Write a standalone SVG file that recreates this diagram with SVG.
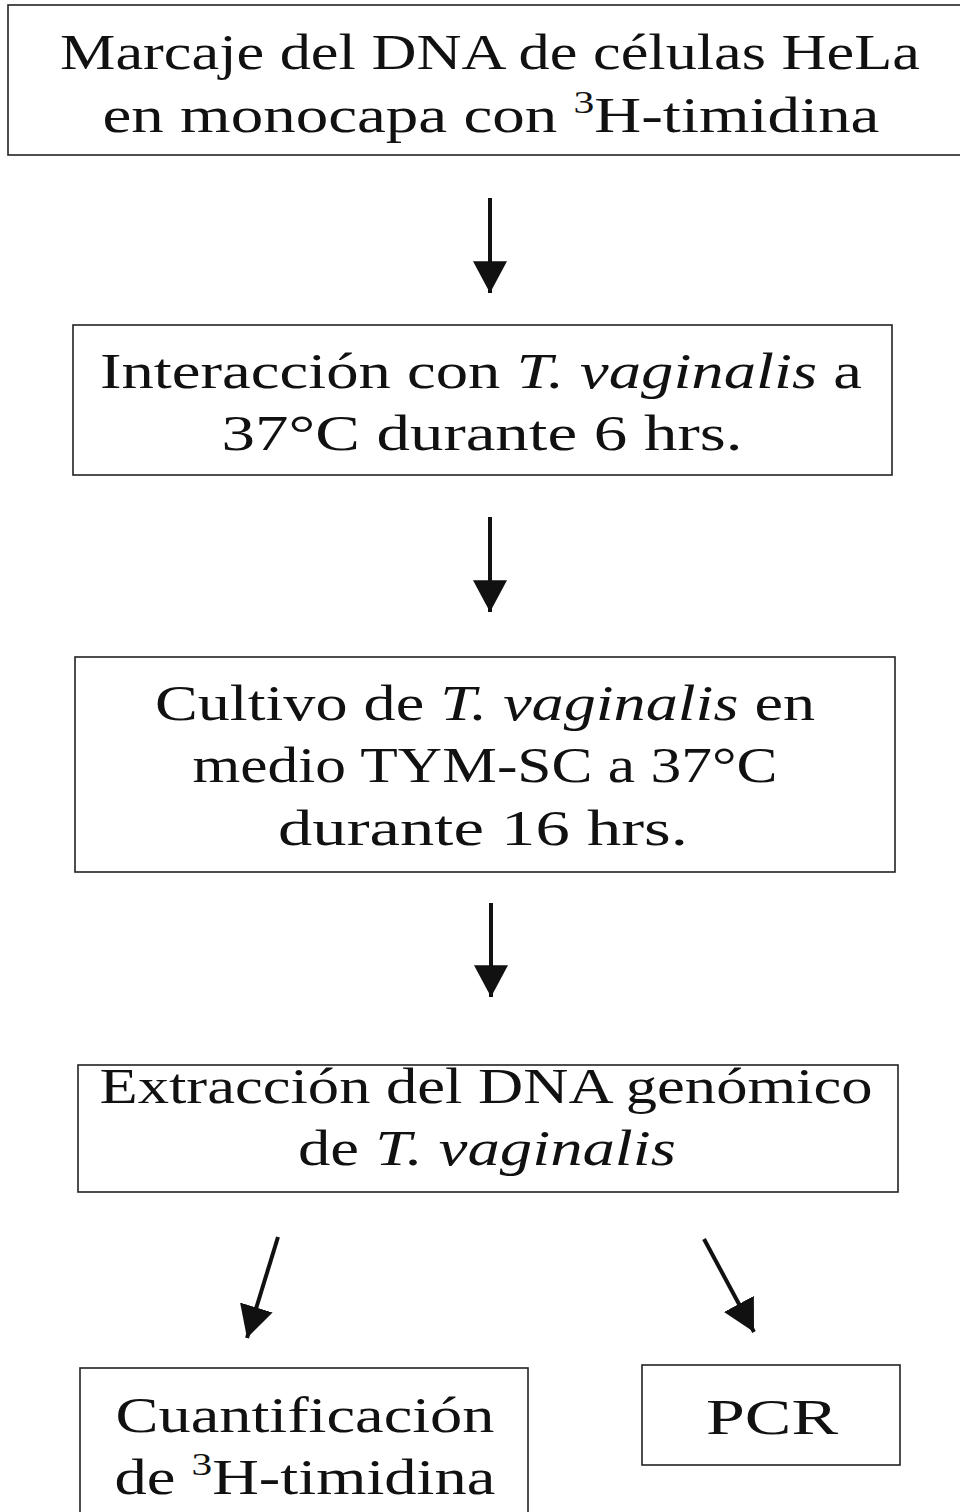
<svg xmlns="http://www.w3.org/2000/svg" width="960" height="1512" viewBox="0 0 960 1512">
<defs>
<style>
.box{fill:#fff;stroke:#222;stroke-width:1.6}
.t{font-family:"Liberation Serif","Times New Roman",serif;font-size:50px;fill:#111;text-anchor:middle}
.i{font-style:italic}
.sup{font-size:32px}
.arr{stroke:#111;stroke-width:4;fill:none}
.head{fill:#111}
</style>
<marker id="ah" markerUnits="userSpaceOnUse" markerWidth="34" markerHeight="34" viewBox="0 -16 32 32" refX="30" refY="0" orient="auto">
<path d="M0,-16 L30,0 L0,16 Z" fill="#111"/>
</marker>
</defs>
<rect width="960" height="1512" fill="#fff"/>
<g id="n1">
<rect class="box" x="8" y="5" width="960" height="150"/>
<text class="t" x="490" y="69" textLength="860" lengthAdjust="spacingAndGlyphs">Marcaje del DNA de células HeLa</text>
<text class="t" x="491" y="132" textLength="777" lengthAdjust="spacingAndGlyphs">en monocapa con <tspan class="sup" dy="-19">3</tspan><tspan dy="19">H-timidina</tspan></text>
</g>
<g id="n2">
<rect class="box" x="73" y="325" width="819" height="150"/>
<text class="t" x="481" y="388" textLength="762" lengthAdjust="spacingAndGlyphs">Interacción con <tspan class="i">T. vaginalis</tspan> a</text>
<text class="t" x="482" y="450" textLength="521" lengthAdjust="spacingAndGlyphs">37°C durante 6 hrs.</text>
</g>
<g id="n3">
<rect class="box" x="75" y="657" width="820" height="215"/>
<text class="t" x="485" y="720" textLength="660" lengthAdjust="spacingAndGlyphs">Cultivo de <tspan class="i">T. vaginalis</tspan> en</text>
<text class="t" x="485" y="782" textLength="585" lengthAdjust="spacingAndGlyphs">medio TYM-SC a 37°C</text>
<text class="t" x="483" y="845" textLength="410" lengthAdjust="spacingAndGlyphs">durante 16 hrs.</text>
</g>
<g id="n4">
<rect class="box" x="78" y="1065" width="820" height="127"/>
<text class="t" x="486" y="1103" textLength="773" lengthAdjust="spacingAndGlyphs">Extracción del DNA genómico</text>
<text class="t" x="487" y="1165" textLength="378" lengthAdjust="spacingAndGlyphs">de <tspan class="i">T. vaginalis</tspan></text>
</g>
<g id="n5">
<rect class="box" x="80" y="1368" width="448" height="160"/>
<text class="t" x="305" y="1432" textLength="379" lengthAdjust="spacingAndGlyphs">Cuantificación</text>
<text class="t" x="305" y="1494" textLength="381" lengthAdjust="spacingAndGlyphs">de <tspan class="sup" dy="-19">3</tspan><tspan dy="19">H-timidina</tspan></text>
</g>
<g id="n6">
<rect class="box" x="642" y="1365" width="258" height="100"/>
<text class="t" x="772" y="1434" textLength="132" lengthAdjust="spacingAndGlyphs">PCR</text>
</g>
<g id="connectors">
<line class="arr" x1="490" y1="198" x2="490" y2="293" marker-end="url(#ah)"/>
<line class="arr" x1="490" y1="517" x2="490" y2="612" marker-end="url(#ah)"/>
<line class="arr" x1="491" y1="903" x2="491" y2="997" marker-end="url(#ah)"/>
<line class="arr" x1="278" y1="1237" x2="247" y2="1338" marker-end="url(#ah)"/>
<line class="arr" x1="704" y1="1239" x2="754" y2="1332" marker-end="url(#ah)"/>
</g>
</svg>
